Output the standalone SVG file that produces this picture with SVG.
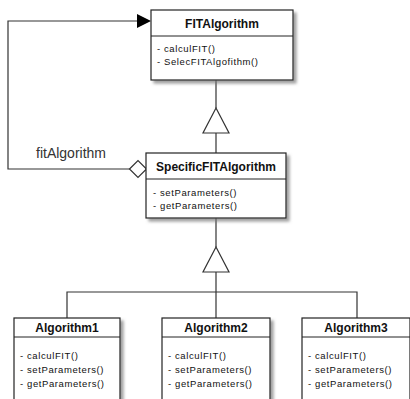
<svg xmlns="http://www.w3.org/2000/svg" width="410" height="399" viewBox="0 0 410 399">
<defs>
<filter id="sh" x="-10%" y="-10%" width="130%" height="130%">
<feDropShadow dx="3" dy="3" stdDeviation="1.5" flood-color="#777" flood-opacity="0.7"/>
</filter>
</defs>
<style>
.box{fill:#fff;stroke:#222;stroke-width:1.2}
.div{stroke:#222;stroke-width:1}
.title{font-family:"Liberation Sans",Arial,sans-serif;font-weight:bold;font-size:12px;fill:#111;text-anchor:middle}
.m{font-family:"Liberation Sans",Arial,sans-serif;font-size:9.5px;letter-spacing:0.6px;fill:#111}
.ln{fill:none;stroke:#333;stroke-width:1.2}
.tri{fill:#fff;stroke:#333;stroke-width:1.2}
.lbl{font-family:"Liberation Sans",Arial,sans-serif;font-size:14px;fill:#333}
</style>
<rect width="410" height="399" fill="#fff"/>
<g id="connectors">
<polyline class="ln" points="146,169 8,169 8,21 140,21"/>
<polygon points="137,14 151,21 137,28" fill="#000"/>
<polygon class="tri" points="129.5,169 138,160.5 146.5,169 138,177.5"/>
<line class="ln" x1="216" y1="80" x2="216" y2="108"/>
<polygon class="tri" points="216,108 229,133 203,133"/>
<line class="ln" x1="216" y1="133" x2="216" y2="153"/>
<line class="ln" x1="216" y1="218" x2="216" y2="247"/>
<polygon class="tri" points="216,247 229,272 203,272"/>
<line class="ln" x1="216" y1="272" x2="216" y2="318"/>
<polyline class="ln" points="67,318 67,292 357,292 357,318"/>
<text class="lbl" x="36" y="158">fitAlgorithm</text>
</g>
<g id="FITAlgorithm">
<rect class="box" x="151" y="10" width="142" height="70" filter="url(#sh)"/>
<line class="div" x1="151" y1="36" x2="293" y2="36"/>
<text class="title" x="222" y="28">FITAlgorithm</text>
<text class="m" x="157" y="52">- calculFIT()</text>
<text class="m" x="157" y="65">- SelecFITAlgofithm()</text>
</g>
<g id="SpecificFITAlgorithm">
<rect class="box" x="146" y="153" width="140" height="65" filter="url(#sh)"/>
<line class="div" x1="146" y1="179" x2="286" y2="179"/>
<text class="title" x="216" y="171">SpecificFITAlgorithm</text>
<text class="m" x="153" y="196">- setParameters()</text>
<text class="m" x="153" y="209">- getParameters()</text>
</g>
<g id="Algorithm1">
<rect class="box" x="14" y="318" width="106" height="90" filter="url(#sh)"/>
<line class="div" x1="14" y1="337" x2="120" y2="337"/>
<text class="title" x="67" y="332">Algorithm1</text>
<text class="m" x="20" y="359">- calculFIT()</text>
<text class="m" x="20" y="373">- setParameters()</text>
<text class="m" x="20" y="387">- getParameters()</text>
</g>
<g id="Algorithm2">
<rect class="box" x="162" y="318" width="108" height="90" filter="url(#sh)"/>
<line class="div" x1="162" y1="337" x2="270" y2="337"/>
<text class="title" x="216" y="332">Algorithm2</text>
<text class="m" x="168" y="359">- calculFIT()</text>
<text class="m" x="168" y="373">- setParameters()</text>
<text class="m" x="168" y="387">- getParameters()</text>
</g>
<g id="Algorithm3">
<rect class="box" x="302" y="318" width="108" height="90" filter="url(#sh)"/>
<line class="div" x1="302" y1="337" x2="410" y2="337"/>
<text class="title" x="356" y="332">Algorithm3</text>
<text class="m" x="308" y="359">- calculFIT()</text>
<text class="m" x="308" y="373">- setParameters()</text>
<text class="m" x="308" y="387">- getParameters()</text>
</g>
</svg>
